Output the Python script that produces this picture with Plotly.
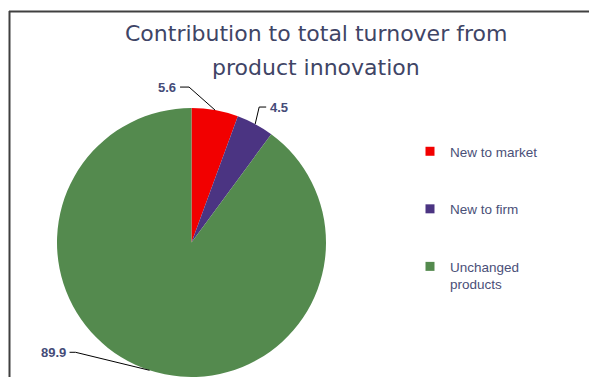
import math
import plotly.graph_objects as go

# ---- data ----
categories = ["New to market", "New to firm", "Unchanged products"]
legend_labels = ["New to market", "New to firm", "Unchanged<br>products"]
values = [5.6, 4.5, 89.9]
value_labels = ["5.6", "4.5", "89.9"]
colors = ["#F20000", "#4B3482", "#548A4E"]
title_lines = ["Contribution to total turnover from", "product innovation"]

# ---- layout geometry (pixels) ----
W, H = 589, 377
CX, CY, R = 191.5, 242.5, 134.5
TEXT_COLOR = "#454B78"

def px(x):
    return x / W

def py(y):
    return 1 - y / H

fig = go.Figure()

fig.add_trace(go.Pie(
    labels=categories,
    values=values,
    sort=False,
    direction="clockwise",
    rotation=0,
    marker=dict(colors=colors, line=dict(width=0)),
    textinfo="none",
    hoverinfo="label+value",
    showlegend=False,
    domain=dict(x=[px(CX - R), px(CX + R)], y=[py(CY + R), py(CY - R)]),
))

# legend via dummy traces so spacing can match
for lab, col in zip(legend_labels, colors):
    fig.add_trace(go.Scatter(
        x=[None], y=[None], mode="markers", name=lab, legendgroup=lab,
        marker=dict(symbol="square", size=9, color=col),
        xaxis="x", yaxis="y",
    ))

# leader-line styling: (elbow offset from edge, horizontal length, side)
label_style = [
    dict(elbow=(-26, -23), hlen=-9, side="right"),
    dict(elbow=(4, -17), hlen=7, side="left"),
    dict(elbow=(-74, -18), hlen=-6, side="right"),
]

total = sum(values)
cum = 0.0
shapes = []
annotations = []
for v, txt, st in zip(values, value_labels, label_style):
    mid = (cum + v / 2) / total * 2 * math.pi
    cum += v
    ex = CX + R * math.sin(mid)
    ey = CY - R * math.cos(mid)
    bx = ex + st["elbow"][0]
    by = ey + st["elbow"][1]
    lx = bx + st["hlen"]
    path = f"M {px(ex)} {py(ey)} L {px(bx)} {py(by)} L {px(lx)} {py(by)}"
    shapes.append(dict(type="path", path=path, xref="paper", yref="paper",
                       line=dict(color="#000000", width=1)))
    gap = 2 if st["side"] == "left" else -2
    annotations.append(dict(
        x=px(lx + gap), y=py(by), xref="paper", yref="paper",
        text=f"<b>{txt}</b>", showarrow=False,
        xanchor="left" if st["side"] == "left" else "right", yanchor="middle",
        font=dict(family="Liberation Sans, Arial", size=13, color=TEXT_COLOR),
    ))

# title lines
for i, line in enumerate(title_lines):
    annotations.append(dict(
        x=px(316), y=py(34 + i * 33), xref="paper", yref="paper",
        text=line, showarrow=False, xanchor="center", yanchor="middle",
        font=dict(family="DejaVu Sans", size=22, color="#3F4566"),
    ))

# chart area border (top and left visible)
shapes.append(dict(type="line", xref="paper", yref="paper",
                   x0=px(9), x1=px(589), y0=py(11.5), y1=py(11.5),
                   line=dict(color="#404040", width=2)))
shapes.append(dict(type="line", xref="paper", yref="paper",
                   x0=px(9.5), x1=px(9.5), y0=py(11), y1=py(377),
                   line=dict(color="#404040", width=2)))

fig.update_layout(
    width=W, height=H,
    margin=dict(l=0, r=0, t=0, b=0),
    paper_bgcolor="white", plot_bgcolor="white",
    xaxis=dict(visible=False), yaxis=dict(visible=False),
    showlegend=True,
    legend=dict(
        x=px(410), y=py(136), xanchor="left", yanchor="top",
        font=dict(family="Liberation Sans, Arial", size=13.5, color="#4A5078"),
        tracegroupgap=37, valign="top", bgcolor="rgba(0,0,0,0)",
        itemclick=False, itemdoubleclick=False,
    ),
    shapes=shapes,
    annotations=annotations,
)

fig.write_html("out.html")
